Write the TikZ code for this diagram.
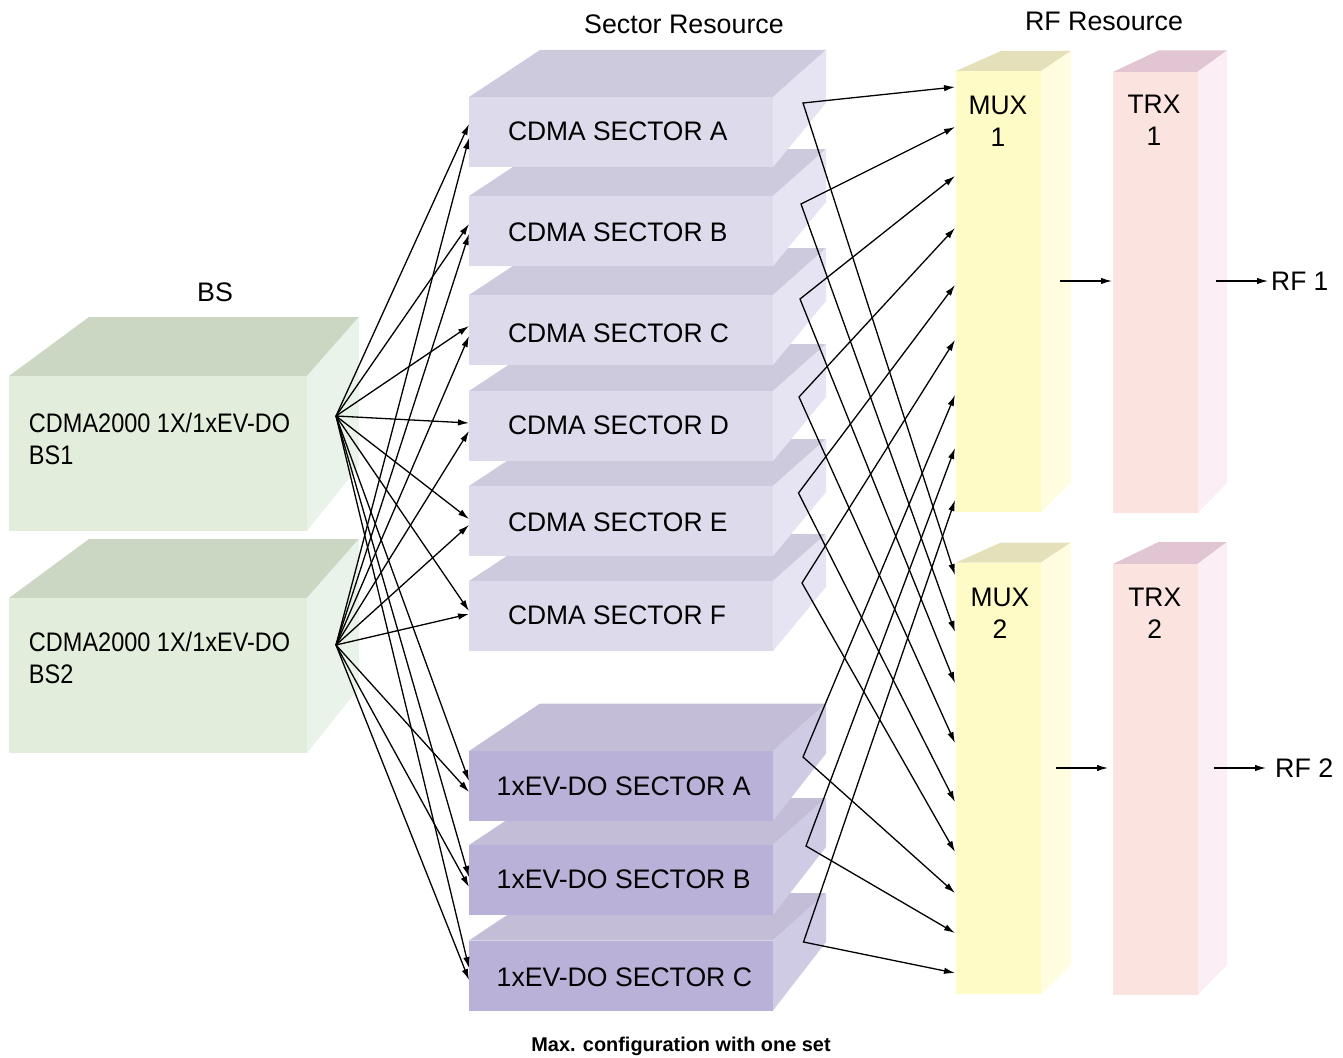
\documentclass[tikz,border=0pt]{standalone}
\usepackage{fontspec}
\setmainfont{Liberation Sans}
\newfontfamily\condfont[FakeStretch=0.877]{Liberation Sans}
\newfontfamily\labfont[FakeStretch=0.985]{Liberation Sans}
\newfontfamily\evfont[FakeStretch=0.993]{Liberation Sans}
\usetikzlibrary{arrows.meta}
\definecolor{secF}{HTML}{DCDAEB}\definecolor{secT}{HTML}{CDCADD}\definecolor{secS}{HTML}{E6E4F2}
\definecolor{evF}{HTML}{B9B1D7}\definecolor{evT}{HTML}{C3BDD8}\definecolor{evS}{HTML}{D0CBE5}
\definecolor{bsF}{HTML}{E2EEDB}\definecolor{bsT}{HTML}{CBD7C3}\definecolor{bsS}{HTML}{E9F3E9}
\definecolor{muxF}{HTML}{FEFBC6}\definecolor{muxT}{HTML}{E4E0BA}\definecolor{muxS}{HTML}{FFFCDF}
\definecolor{trxF}{HTML}{FBE3DF}\definecolor{trxT}{HTML}{E1C5D2}\definecolor{trxS}{HTML}{FBEEF5}
% faces of a block: x, y, w, h, back-left inset, back-right offset, rise, back edge height, colour prefix
\newcommand{\cubefaces}[9]{%
  \fill[#9T] (#1,#2) -- ++(#5,-#7) -- (#1+#3+#6,#2-#7) -- (#1+#3,#2) -- cycle;
  \fill[#9S] (#1+#3,#2) -- (#1+#3+#6,#2-#7) -- ++(0,#8) -- (#1+#3,#2+#4) -- cycle;
}
% label held at a given left inset and height inside a face node
\newcommand{\lbl}[5]{\makebox[#1pt][#4]{\hspace{#2pt}\raisebox{#3pt}[0pt][0pt]{\begin{tabular}{@{}#4@{}}#5\end{tabular}}}}
\tikzset{
  face/.style={anchor=north west,inner sep=0pt,outer sep=0pt,fill=#1,rectangle},
  conn/.style={-{Latex[length=11pt,width=6.5pt]},line width=1.3pt,black},
  both/.style={{Latex[length=11pt,width=6.5pt]}-{Latex[length=11pt,width=6.5pt]},line width=1.3pt,black},
  txt/.style={inner sep=0pt,font=\fontsize{26.8}{32}\selectfont},
  bf/.style={font=\fontsize{26.8}{32}\labfont},
  ef/.style={font=\fontsize{26.8}{32}\evfont},
  cf/.style={font=\fontsize{26.8}{32}\condfont},
}
\begin{document}
\begin{tikzpicture}[x=1pt,y=-1pt]
\useasboundingbox (0,0) rectangle (1343,1057);
% BS
\cubefaces{9}{598}{298}{155}{80}{52}{59}{149}{bs}
\node[face=bsF,cf,minimum height=155pt] (bsTwo) at (9,598) {\lbl{298}{20}{8}{l}{CDMA2000 1X/1xEV-DO\\BS2}};
\cubefaces{9}{376}{298}{155}{80}{52}{59}{149}{bs}
\node[face=bsF,cf,minimum height=155pt] (bsOne) at (9,376) {\lbl{298}{20}{5}{l}{CDMA2000 1X/1xEV-DO\\BS1}};
% 1xEV-DO sectors
\cubefaces{469}{940.5}{304}{70}{71}{53}{47.5}{49}{ev}
\node[face=evF,ef,minimum height=70pt] (evC) at (469,940.5) {\lbl{304}{27.7}{-11}{l}{1xEV-DO SECTOR C}};
\cubefaces{469}{845}{304}{70}{71}{53}{47}{49}{ev}
\node[face=evF,ef,minimum height=70pt] (evB) at (469,845) {\lbl{304}{27.7}{-8}{l}{1xEV-DO SECTOR B}};
\cubefaces{469}{751}{304}{70}{71}{53}{47.5}{50}{ev}
\node[face=evF,ef,minimum height=70pt] (evA) at (469,751) {\lbl{304}{27.7}{-9}{l}{1xEV-DO SECTOR A}};
% CDMA sectors
\cubefaces{469}{581}{304}{70}{71}{53}{47}{53}{sec}
\node[face=secF,bf,minimum height=70pt] (secF) at (469,581) {\lbl{304}{39}{-8}{l}{CDMA SECTOR F}};
\cubefaces{469}{486}{304}{70}{71}{53}{47}{53}{sec}
\node[face=secF,bf,minimum height=70pt] (secE) at (469,486) {\lbl{304}{39}{-10}{l}{CDMA SECTOR E}};
\cubefaces{469}{391}{304}{70}{71}{53}{47}{53}{sec}
\node[face=secF,bf,minimum height=70pt] (secD) at (469,391) {\lbl{304}{39}{-8}{l}{CDMA SECTOR D}};
\cubefaces{469}{295}{304}{70}{71}{53}{47}{53}{sec}
\node[face=secF,bf,minimum height=70pt] (secC) at (469,295) {\lbl{304}{39}{-12}{l}{CDMA SECTOR C}};
\cubefaces{469}{196}{304}{70}{71}{53}{47}{53}{sec}
\node[face=secF,bf,minimum height=70pt] (secB) at (469,196) {\lbl{304}{39}{-10}{l}{CDMA SECTOR B}};
\cubefaces{469}{97}{304}{70}{71}{53}{47}{53}{sec}
\node[face=secF,bf,minimum height=70pt] (secA) at (469,97) {\lbl{304}{39}{-8}{l}{CDMA SECTOR A}};
% MUX and TRX
\cubefaces{956}{71}{85}{441}{45}{30}{20}{431}{mux}
\node[face=muxF,bf,minimum height=441pt] (muxOne) at (956,71) {\lbl{85}{-1}{161}{c}{MUX\\1}};
\cubefaces{956}{562.5}{85}{431.5}{45}{30}{20}{422.5}{mux}
\node[face=muxF,bf,minimum height=431.5pt] (muxTwo) at (956,562.5) {\lbl{85}{3}{156}{c}{MUX\\2}};
\cubefaces{1113}{72}{84.5}{441}{45.5}{29.5}{21.5}{432.5}{trx}
\node[face=trxF,bf,minimum height=441pt] (trxOne) at (1113,72) {\lbl{84.5}{-2.5}{163}{c}{TRX\\1}};
\cubefaces{1113}{564}{84.5}{431}{45.5}{29.5}{22}{423}{trx}
\node[face=trxF,bf,minimum height=431pt] (trxTwo) at (1113,564) {\lbl{84.5}{-1}{157}{c}{TRX\\2}};
% titles
\node[txt] (tBS) at (215,292) {BS};
\node[txt] (tSec) at (684,24) {Sector Resource};
\node[txt] (tRF) at (1104,21) {RF Resource};
\node[inner sep=0pt,font=\fontsize{19.9}{24}\selectfont\bfseries] (tMax) at (681,1046) {Max. configuration with one set};
\node[txt,anchor=west,font=\fontsize{26.8}{32}\labfont] (rfOne) at (1271,281) {RF 1};
\node[txt,anchor=west] (rfTwo) at (1275,768) {RF 2};
% hubs and ports
\coordinate (hubOne) at (336,416);
\coordinate (hubTwo) at (336,645);
\coordinate (inA1) at (469,124);\coordinate (inA2) at (469,138);
\coordinate (inB1) at (469,224);\coordinate (inB2) at (469,234);
\coordinate (inC1) at (469,326);\coordinate (inC2) at (469,336);
\coordinate (inD1) at (469,423);\coordinate (inD2) at (469,431);
\coordinate (inE1) at (469,519);\coordinate (inE2) at (469,525);
\coordinate (inF1) at (469,611);\coordinate (inF2) at (469,614);
\coordinate (inG1) at (469,781);\coordinate (inG2) at (469,792);
\coordinate (inH1) at (469,877);\coordinate (inH2) at (469,887);
\coordinate (inI1) at (469,968);\coordinate (inI2) at (469,980);
\foreach \p in {A,B,C,D,E,F,G,H,I}{
  \draw[conn] (hubOne) -- (in\p1);
  \draw[conn] (hubTwo) -- (in\p2);
}
\foreach \n/\x/\y/\a/\b in {A/803/103/87/575,B/801/204/127/632,C/800/299/176/683,D/799/397/228/743,E/798.5/493/285/802,F/802/583/340/852,G/803/757/395/893,H/806/846/448/933,I/803.5/942/500/973}{
  \coordinate (out\n) at (\x,\y);
  \coordinate (mo\n) at (955,\a);
  \coordinate (mt\n) at (955,\b);
  \draw[both,line join=miter] (mo\n) -- (out\n) -- (mt\n);
}
\coordinate (aOne) at (1060,281);\coordinate (bOne) at (1112,281);
\coordinate (cOne) at (1216,281);\coordinate (dOne) at (1268,281);
\coordinate (aTwo) at (1056,768);\coordinate (bTwo) at (1108,768);
\coordinate (cTwo) at (1214,768);\coordinate (dTwo) at (1266,768);
\draw[conn] (aOne) -- (bOne);
\draw[conn] (cOne) -- (dOne);
\draw[conn] (aTwo) -- (bTwo);
\draw[conn] (cTwo) -- (dTwo);
\end{tikzpicture}
\end{document}
